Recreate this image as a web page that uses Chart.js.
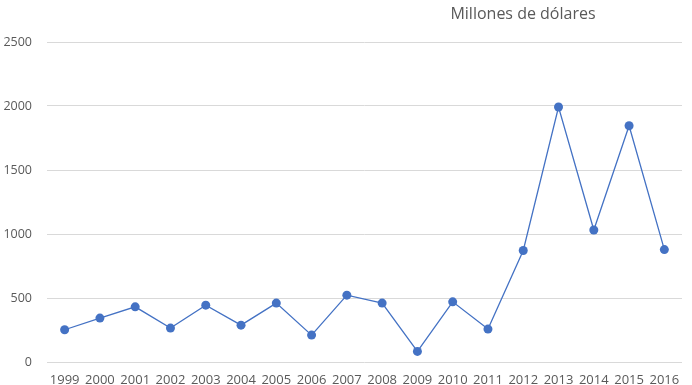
<!DOCTYPE html>
<html>
<head>
<meta charset="utf-8">
<script src="https://cdn.jsdelivr.net/npm/chart.js@4"></script>
<style>
html,body{margin:0;padding:0;background:#fff;}
#wrap{width:692px;height:385px;position:relative;}
</style>
</head>
<body>
<div id="wrap"><canvas id="c"></canvas></div>
<script>
const years = ["1999","2000","2001","2002","2003","2004","2005","2006","2007","2008","2009","2010","2011","2012","2013","2014","2015","2016"];
const values = [252,343,431,265,444,288,460,210,522,460,83,470,257,871,1992,1031,1846,878];
const yTicks = [0,500,1000,1500,2000,2500];
const titleText = "Millones de dólares";

const titlePlugin = {
  id: 'customTitle',
  afterDraw(chart) {
    const ctx = chart.ctx;
    ctx.save();
    ctx.font = '16px "Open Sans"';
    ctx.fillStyle = '#595959';
    ctx.textAlign = 'center';
    ctx.textBaseline = 'middle';
    ctx.fillText(titleText, 523, 14);
    ctx.restore();
  }
};

new Chart(document.getElementById('c'), {
  type: 'line',
  data: {
    labels: years,
    datasets: [{
      data: values,
      borderColor: '#4472C4',
      backgroundColor: '#4472C4',
      borderWidth: 1.3,
      pointRadius: 4.5,
      pointHoverRadius: 4.5,
      pointBorderWidth: 0,
      tension: 0,
      fill: false
    }]
  },
  options: {
    responsive: true,
    maintainAspectRatio: false,
    animation: false,
    devicePixelRatio: 1,
    layout: { padding: { top: 42, right: 10, bottom: 0, left: 0 } },
    plugins: { legend: { display: false }, tooltip: { enabled: false } },
    scales: {
      x: {
        offset: true,
        grid: { display: false },
        border: { display: false },
        ticks: { color: '#595959', font: { family: 'Open Sans', size: 13 }, padding: 2, maxRotation: 0, autoSkip: false },
        afterFit(s) { s.height = 23; }
      },
      y: {
        min: 0, max: 2500,
        afterBuildTicks(s) { s.ticks = yTicks.map(v => ({ value: v })); },
        grid: { color: '#d9d9d9', lineWidth: 1, drawTicks: false },
        border: { display: false },
        ticks: { color: '#595959', font: { family: 'Open Sans', size: 12.5 }, padding: 15, callback: v => String(v) },
        afterFit(s) { s.width = 47; }
      }
    }
  },
  plugins: [titlePlugin]
});
</script>
</body>
</html>
